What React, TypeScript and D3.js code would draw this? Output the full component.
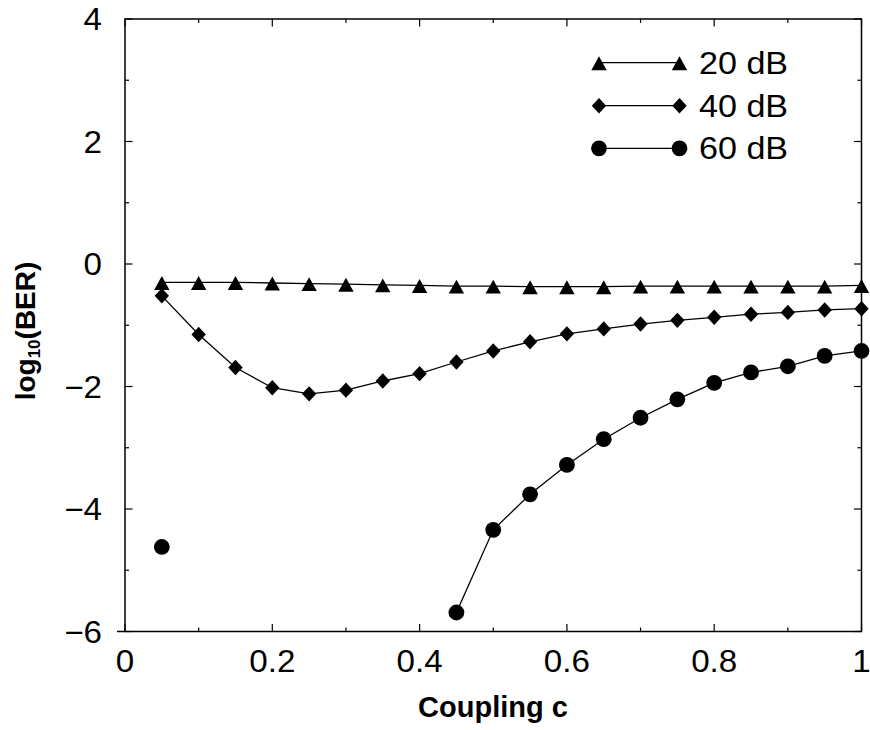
import React from 'react';
import * as d3 from 'd3';

const couplingC = [0.05, 0.1, 0.15, 0.2, 0.25, 0.3, 0.35, 0.4, 0.45, 0.5, 0.55, 0.6, 0.65, 0.7, 0.75, 0.8, 0.85, 0.9, 0.95, 1.0];
const ber20dB = [-0.30, -0.30, -0.30, -0.31, -0.32, -0.33, -0.34, -0.35, -0.36, -0.36, -0.37, -0.37, -0.37, -0.36, -0.36, -0.36, -0.36, -0.36, -0.36, -0.35];
const ber40dB = [-0.52, -1.15, -1.69, -2.02, -2.12, -2.06, -1.91, -1.79, -1.60, -1.42, -1.27, -1.14, -1.06, -0.98, -0.92, -0.87, -0.82, -0.79, -0.75, -0.73];
const ber60dB: (number | null)[] = [-4.62, null, null, null, null, null, null, null, -5.69, -4.34, -3.76, -3.28, -2.86, -2.51, -2.21, -1.94, -1.77, -1.67, -1.50, -1.42];
const seriesNames = ['20 dB', '40 dB', '60 dB'];
const seriesMarkers = ['triangle', 'diamond', 'circle'];

const xMajorTicks = [0, 0.2, 0.4, 0.6, 0.8, 1];
const xTickLabels = ['0', '0.2', '0.4', '0.6', '0.8', '1'];
const xMinorTicks = [0.1, 0.3, 0.5, 0.7, 0.9];
const yMajorTicks = [4, 2, 0, -2, -4, -6];
const yTickLabels = ['4', '2', '0', '\u22122', '\u22124', '\u22126'];
const yMinorTicks = [3, 1, -1, -3, -5];

const FONT = '"Liberation Sans", Arial, Helvetica, sans-serif';

function markerPath(kind: string): string {
  if (kind === 'triangle') return 'M0,-6.4L7.7,7.5L-7.7,7.5Z';
  if (kind === 'diamond') return 'M0,-7.7L7.2,0L0,7.7L-7.2,0Z';
  return 'M7.9,0A7.9,7.9 0 1 1 -7.9,0A7.9,7.9 0 1 1 7.9,0Z';
}

export default function App() {
  const left = 125, right = 861.5, top = 19, bottom = 631.5;
  const x = d3.scaleLinear().domain([0, 1]).range([left, right]);
  const y = d3.scaleLinear().domain([-6, 4]).range([bottom, top]);

  const allSeries = [ber20dB, ber40dB, ber60dB];
  const line = d3
    .line<[number, number | null]>()
    .defined((d) => d[1] !== null)
    .x((d) => x(d[0]))
    .y((d) => y(d[1] as number));

  const legendY = [62.7, 105.7, 148.3];
  const legX1 = 599, legX2 = 679.5, legTextX = 699;

  return (
    <svg width={870} height={730} style={{ position: 'absolute', left: 0, top: 0, background: '#fff' }}>
      <rect x={0} y={0} width={870} height={730} fill="#fff" />
      {allSeries.map((vals, i) => (
        <path
          key={'l' + i}
          d={line(couplingC.map((c, j) => [c, vals[j]] as [number, number | null])) || ''}
          fill="none"
          stroke="#000"
          strokeWidth={1.3}
        />
      ))}
      {allSeries.map((vals, i) =>
        couplingC.map((c, j) =>
          vals[j] === null ? null : (
            <path
              key={'m' + i + '-' + j}
              d={markerPath(seriesMarkers[i])}
              transform={`translate(${x(c)},${y(vals[j] as number)})`}
              fill="#000"
            />
          )
        )
      )}
      <rect x={left} y={top} width={right - left} height={bottom - top} fill="none" stroke="#000" strokeWidth={1.5} />
      <line x1={117} x2={left} y1={bottom} y2={bottom} stroke="#000" strokeWidth={1.5} />
      {xMajorTicks.map((t) => (
        <g key={'xt' + t}>
          <line x1={x(t)} x2={x(t)} y1={bottom} y2={bottom - 7.5} stroke="#000" strokeWidth={1.2} />
          <line x1={x(t)} x2={x(t)} y1={top} y2={top + 7.5} stroke="#000" strokeWidth={1.2} />
        </g>
      ))}
      {xMinorTicks.map((t) => (
        <g key={'xm' + t}>
          <line x1={x(t)} x2={x(t)} y1={bottom} y2={bottom - 4} stroke="#000" strokeWidth={1.2} />
          <line x1={x(t)} x2={x(t)} y1={top} y2={top + 4} stroke="#000" strokeWidth={1.2} />
        </g>
      ))}
      {xMajorTicks.map((t, i) => (
        <text
          key={'xl' + t}
          transform={`translate(${x(t)},671.5) scale(1.07,1)`}
          textAnchor="middle"
          fontFamily={FONT}
          fontSize={31}
          fill="#000"
        >
          {xTickLabels[i]}
        </text>
      ))}
      {yMajorTicks.map((t) => (
        <g key={'yt' + t}>
          <line x1={left} x2={left + 7.5} y1={y(t)} y2={y(t)} stroke="#000" strokeWidth={1.2} />
          <line x1={right} x2={right - 7.5} y1={y(t)} y2={y(t)} stroke="#000" strokeWidth={1.2} />
        </g>
      ))}
      {yMinorTicks.map((t) => (
        <g key={'ym' + t}>
          <line x1={left} x2={left + 4} y1={y(t)} y2={y(t)} stroke="#000" strokeWidth={1.2} />
          <line x1={right} x2={right - 4} y1={y(t)} y2={y(t)} stroke="#000" strokeWidth={1.2} />
        </g>
      ))}
      {yMajorTicks.map((t, i) => (
        <text
          key={'yl' + t}
          transform={`translate(102,${y(t) + 11}) scale(1.07,1)`}
          textAnchor="end"
          fontFamily={FONT}
          fontSize={31}
          fill="#000"
        >
          {yTickLabels[i]}
        </text>
      ))}
      <text x={493} y={716.7} textAnchor="middle" fontFamily={FONT} fontSize={29} fontWeight="bold" fill="#000">
        Coupling c
      </text>
      <text
        transform="translate(35,331) rotate(-90)"
        textAnchor="middle"
        fontFamily={FONT}
        fontSize={28}
        fontWeight="bold"
        fill="#000"
      >
        log<tspan fontSize={17} dy={5}>10</tspan>
        <tspan dy={-5}>(BER)</tspan>
      </text>
      {seriesNames.map((name, i) => (
        <g key={'lg' + i}>
          <line x1={legX1} x2={legX2} y1={legendY[i]} y2={legendY[i]} stroke="#000" strokeWidth={1.3} />
          <path d={markerPath(seriesMarkers[i])} transform={`translate(${legX1},${legendY[i]})`} fill="#000" />
          <path d={markerPath(seriesMarkers[i])} transform={`translate(${legX2},${legendY[i]})`} fill="#000" />
          <text
            transform={`translate(${legTextX},${legendY[i] + 11}) scale(1.1,1)`}
            fontFamily={FONT}
            fontSize={31}
            fill="#000"
          >
            {name}
          </text>
        </g>
      ))}
    </svg>
  );
}
